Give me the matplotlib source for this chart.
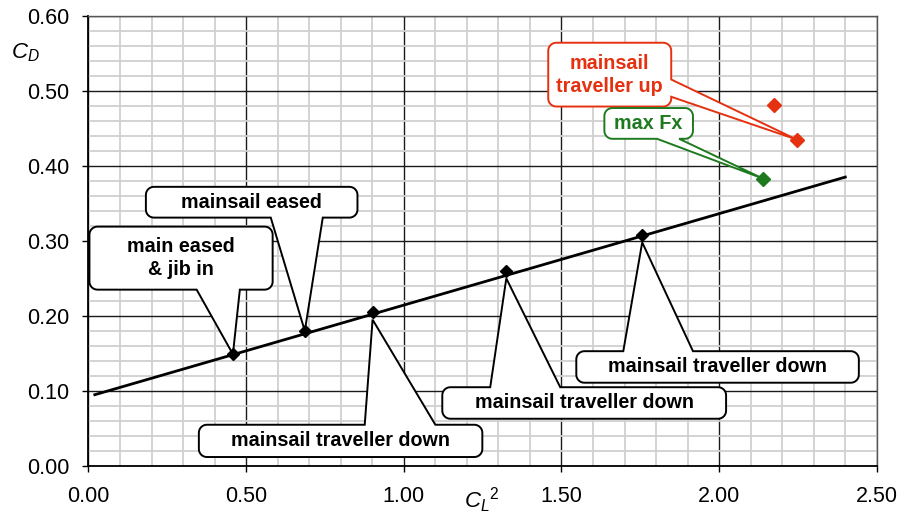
import numpy as np
import matplotlib.pyplot as plt
from matplotlib.patches import Polygon
from matplotlib.ticker import MultipleLocator, FormatStrFormatter

plt.rcParams['font.family'] = ['Liberation Sans', 'DejaVu Sans']
plt.rcParams['mathtext.fontset'] = 'custom'
plt.rcParams['mathtext.rm'] = 'Liberation Sans'
plt.rcParams['mathtext.it'] = 'Liberation Sans:italic'

# measured points (CL^2, CD)
cl2_pts = [0.458, 0.686, 0.901, 1.325, 1.756]
cd_pts = [0.149, 0.180, 0.205, 0.260, 0.308]
cl2_maxfx = [2.139]
cd_maxfx = [0.383]
cl2_up = [2.174, 2.246]
cd_up = [0.481, 0.435]

# linear fit drawn through the black points
fit_x = [0.02, 2.40]
fit_y = [0.095, 0.385]

RED = '#e5310f'
GREEN = '#1f7a1f'

fig = plt.figure(figsize=(9.03, 5.17), dpi=100)
ax = fig.add_axes([0.098, 0.0986, 0.873, 0.871])
ax.set_xlim(0, 2.5)
ax.set_ylim(0, 0.6)

ax.xaxis.set_major_locator(MultipleLocator(0.5))
ax.xaxis.set_minor_locator(MultipleLocator(0.1))
ax.yaxis.set_major_locator(MultipleLocator(0.1))
ax.yaxis.set_minor_locator(MultipleLocator(0.02))
ax.xaxis.set_major_formatter(FormatStrFormatter('%.2f'))
ax.yaxis.set_major_formatter(FormatStrFormatter('%.2f'))
ax.grid(which='minor', color='#d0d0d0', lw=1.3, zorder=0)
ax.grid(which='major', color='#1a1a1a', lw=1.0, zorder=1)
ax.set_axisbelow(True)
ax.tick_params(which='major', direction='out', length=4.5, width=1.0,
               labelsize=15.5, top=False, right=False)
ax.tick_params(axis='y', pad=9.5)
ax.tick_params(axis='x', pad=10)
ax.tick_params(which='minor', length=0)
for s in ['left', 'bottom']:
    ax.spines[s].set_color('black')
    ax.spines[s].set_linewidth(1.3)
for s in ['top', 'right']:
    ax.spines[s].set_color('#555555')
    ax.spines[s].set_linewidth(1.0)

fig.text(0.028, 0.899, r'$C_D$', fontsize=16, ha='center', va='center')
fig.text(0.534, 0.033, r'$C_L{}^{\mathrm{2}}$', fontsize=16, ha='center', va='center')

ax.plot(fit_x, fit_y, color='black', lw=2.0, zorder=3)


def callout(x0, x1, y0, y1, side, b0, b1, tip, text, color='black',
            r=8, fs=14.2):
    # rounded box with a wedge pointer merged into one outline
    p0 = ax.transData.transform((0, 0))
    p1 = ax.transData.transform((1, 1))
    rx = r / (p1[0] - p0[0])
    ry = r / (p1[1] - p0[1])

    def arc(cx, cy, a0, a1):
        t = np.radians(np.linspace(a0, a1, 9))
        return list(zip(cx + rx * np.cos(t), cy + ry * np.sin(t)))

    v = []
    v += arc(x0 + rx, y1 - ry, 180, 90)
    if side == 'top':
        v += [(b0, y1), tip, (b1, y1)]
    v += arc(x1 - rx, y1 - ry, 90, 0)
    if side == 'right':
        v += [(x1, max(b0, b1)), tip, (x1, min(b0, b1))]
    v += arc(x1 - rx, y0 + ry, 0, -90)
    if side == 'bottom':
        v += [(max(b0, b1), y0), tip, (min(b0, b1), y0)]
    v += arc(x0 + rx, y0 + ry, -90, -180)
    ax.add_patch(Polygon(v, closed=True, fc='white', ec=color, lw=1.4,
                         zorder=4, clip_on=False, joinstyle='miter'))
    ax.text((x0 + x1) / 2, (y0 + y1) / 2, text, color=color, fontsize=fs,
            fontweight='bold', ha='center', va='center', zorder=5,
            linespacing=1.28)


callout(0.003, 0.584, 0.235, 0.319, 'bottom', 0.343, 0.480,
        (cl2_pts[0], cd_pts[0]), 'main eased\n& jib in')
callout(0.182, 0.853, 0.331, 0.372, 'bottom', 0.578, 0.743,
        (cl2_pts[1], cd_pts[1]), 'mainsail eased')
callout(0.350, 1.249, 0.012, 0.055, 'top', 0.876, 1.100,
        (cl2_pts[2], cd_pts[2] - 0.01), 'mainsail traveller down')
callout(1.122, 2.022, 0.063, 0.105, 'top', 1.274, 1.496,
        (cl2_pts[3], cd_pts[3] - 0.01), 'mainsail traveller down')
callout(1.547, 2.443, 0.111, 0.153, 'top', 1.696, 1.917,
        (cl2_pts[4], cd_pts[4] - 0.01), 'mainsail traveller down')
callout(1.458, 1.848, 0.479, 0.564, 'right', 0.492, 0.515,
        (cl2_up[1], cd_up[1]), 'mainsail\ntraveller up', color=RED)
callout(1.636, 1.917, 0.436, 0.477, 'bottom', 1.803, 1.873,
        (cl2_maxfx[0], cd_maxfx[0]), 'max Fx', color=GREEN)

ax.plot(cl2_pts, cd_pts, 'D', color='black', ms=6.5, zorder=6)
ax.plot(cl2_maxfx, cd_maxfx, 'D', color=GREEN, ms=7, zorder=6)
ax.plot(cl2_up, cd_up, 'D', color=RED, ms=7, zorder=6)

fig.savefig('out.png', dpi=100)
